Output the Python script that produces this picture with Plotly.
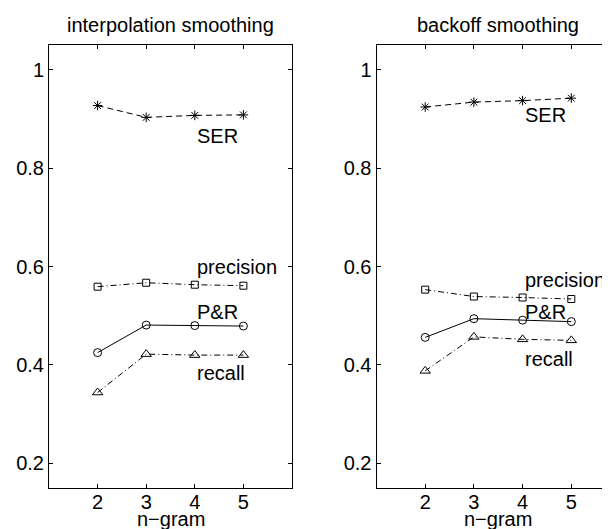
import plotly.graph_objects as go

ngram = [2, 3, 4, 5]

# interpolation smoothing
interp_ser = [0.927, 0.903, 0.907, 0.908]
interp_precision = [0.559, 0.567, 0.563, 0.561]
interp_pr = [0.425, 0.481, 0.480, 0.479]
interp_recall = [0.344, 0.422, 0.420, 0.420]

# backoff smoothing
backoff_ser = [0.924, 0.934, 0.937, 0.942]
backoff_precision = [0.553, 0.539, 0.537, 0.534]
backoff_pr = [0.456, 0.494, 0.491, 0.488]
backoff_recall = [0.388, 0.457, 0.452, 0.450]

titles = ["interpolation smoothing", "backoff smoothing"]
series_names = ["SER", "precision", "P&R", "recall"]
interp_label_y = [0.865, 0.599, 0.507, 0.383]
backoff_label_y = [0.907, 0.573, 0.507, 0.412]
label_x = 4.0

yticks = [0.2, 0.4, 0.6, 0.8, 1.0]
yticktext = ["0.2", "0.4", "0.6", "0.8", "1"]
xticks = [2, 3, 4, 5]

FONT = "Liberation Sans, Arial, Helvetica, sans-serif"
W, H = 610, 529

styles = [
    dict(symbol="asterisk-open", size=8, dash="6px,4px"),
    dict(symbol="square-open", size=7, dash="6px,3px,1px,3px"),
    dict(symbol="circle-open", size=8, dash="solid"),
    dict(symbol="triangle-up-open", size=9, dash="6px,3px,1px,3px"),
]

fig = go.Figure()

panels = [
    ("x", "y", [interp_ser, interp_precision, interp_pr, interp_recall], interp_label_y),
    ("x2", "y2", [backoff_ser, backoff_precision, backoff_pr, backoff_recall], backoff_label_y),
]

for xa, ya, data, lab_y in panels:
    for vals, st in zip(data, styles):
        fig.add_trace(go.Scatter(
            x=ngram, y=vals, xaxis=xa, yaxis=ya, mode="lines+markers",
            line=dict(color="black", width=1, dash=st["dash"]),
            marker=dict(symbol=st["symbol"], size=st["size"], color="black",
                        line=dict(color="black", width=1)),
            showlegend=False, hoverinfo="skip",
        ))
    for name, ly in zip(series_names, lab_y):
        fig.add_annotation(x=label_x, y=ly, xref=xa, yref=ya, text=name,
                           showarrow=False, xanchor="left", yanchor="middle",
                           font=dict(family=FONT, size=20, color="black"))

left_dom = [41 / W, 284 / W]
right_dom = [368.5 / W, 1.0]
ydom = [(H - 480) / H, (H - 37) / H]
right_xmax = 1 + (610 - 368.5) / 48.7

axis_common = dict(showline=True, linecolor="black", linewidth=1, ticks="inside",
                   ticklen=4, tickcolor="black", tickwidth=1, showgrid=False,
                   zeroline=False, tickfont=dict(family=FONT, size=20, color="black"))

fig.update_layout(
    width=W, height=H, margin=dict(l=0, r=0, t=0, b=0),
    paper_bgcolor="white", plot_bgcolor="white",
    xaxis=dict(domain=left_dom, range=[1, 6], tickvals=xticks, mirror="ticks",
               anchor="y", ticklabelstandoff=-4, **axis_common),
    yaxis=dict(domain=ydom, range=[0.15, 1.05], tickvals=yticks, ticktext=yticktext,
               mirror="ticks", anchor="x", **axis_common),
    xaxis2=dict(domain=right_dom, range=[1, right_xmax], tickvals=xticks, mirror="ticks",
                anchor="y2", ticklabelstandoff=-4, **axis_common),
    yaxis2=dict(domain=ydom, range=[0.15, 1.05], tickvals=yticks, ticktext=yticktext,
                mirror=False, anchor="x2", **axis_common),
    yaxis3=dict(domain=ydom, range=[0.15, 1.05], tickvals=yticks, overlaying="y2",
                side="right", anchor="x2", showline=False, ticks="inside", ticklen=4,
                tickcolor="black", tickwidth=1, showticklabels=False, showgrid=False,
                zeroline=False),
)

centers = [(41 + 284) / 2 / W, (368.5 + 612) / 2 / W]
for cx, t in zip(centers, titles):
    fig.add_annotation(x=cx, y=(H - 17) / H, xref="paper", yref="paper",
                       text=t, showarrow=False, xanchor="center", yanchor="middle",
                       font=dict(family=FONT, size=20, color="black"))
    fig.add_annotation(x=cx, y=(H - 523) / H, xref="paper", yref="paper",
                       text="n\u2212gram", showarrow=False, xanchor="center", yanchor="bottom",
                       borderpad=0, font=dict(family=FONT, size=20, color="black"))

fig.write_html("out.html")
